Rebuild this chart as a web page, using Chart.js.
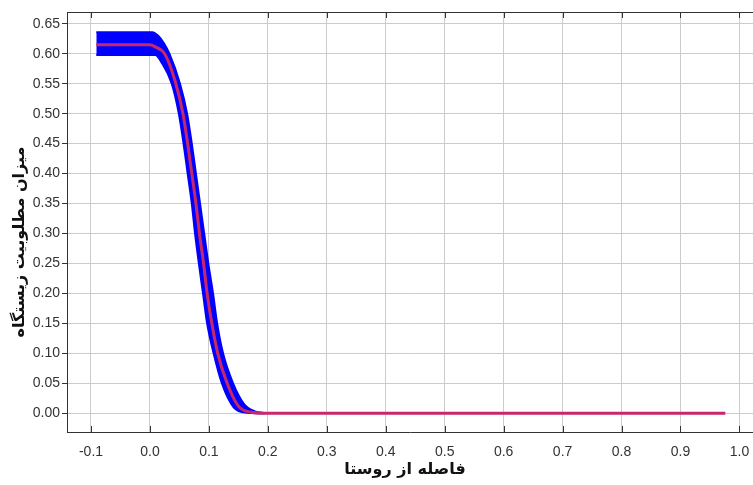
<!DOCTYPE html>
<html>
<head>
<meta charset="utf-8">
<script src="https://cdn.jsdelivr.net/npm/chart.js@4.4.1/dist/chart.umd.min.js"></script>
<style>
  body { margin: 0; background: #fff; }
  canvas { display: block; }
</style>
</head>
<body>
<canvas id="habitatChart" width="753" height="485"></canvas>
<script>
// center curve (red)
const xCenter = [-0.091, 0.0, 0.01, 0.025, 0.044, 0.056, 0.064, 0.071, 0.078, 0.084, 0.091, 0.097, 0.105, 0.115, 0.131, 0.15, 0.17, 0.195, 0.3, 0.976];
const yCenter = [0.615, 0.615, 0.611, 0.60, 0.55, 0.50, 0.45, 0.40, 0.35, 0.30, 0.25, 0.20, 0.15, 0.10, 0.05, 0.012, 0.002, 0, 0, 0];

// blue band, upper/right edge
const xUpper = [-0.091, 0.004, 0.014, 0.024, 0.033, 0.051, 0.063, 0.071, 0.078, 0.085, 0.092, 0.099, 0.107, 0.114, 0.124, 0.141, 0.16, 0.178, 0.195];
const yUpper = [0.636, 0.636, 0.630, 0.617, 0.60, 0.55, 0.50, 0.45, 0.40, 0.35, 0.30, 0.25, 0.20, 0.15, 0.10, 0.05, 0.015, 0.003, 0];

// blue band, lower/left edge
const xLower = [-0.091, 0.009, 0.02, 0.037, 0.049, 0.057, 0.064, 0.071, 0.0765, 0.083, 0.090, 0.097, 0.108, 0.122, 0.142, 0.165, 0.195];
const yLower = [0.598, 0.598, 0.585, 0.55, 0.50, 0.45, 0.40, 0.35, 0.30, 0.25, 0.20, 0.15, 0.10, 0.05, 0.01, 0.001, 0];

const xTicks = [-0.1, 0.0, 0.1, 0.2, 0.3, 0.4, 0.5, 0.6, 0.7, 0.8, 0.9, 1.0];
const yTicks = [0, 0.05, 0.10, 0.15, 0.20, 0.25, 0.30, 0.35, 0.40, 0.45, 0.50, 0.55, 0.60, 0.65];

const xTitle = 'فاصله از روستا';
const yTitle = 'میزان مطلوبیت زیستگاه';

function toPoints(xs, ys) {
    return xs.map((x, i) => ({ x: x, y: ys[i] }));
}

// titles + small inside tick marks + top frame line
const extrasPlugin = {
    id: 'extras',
    afterDraw(chart) {
        const ctx = chart.ctx;
        const area = chart.chartArea;
        const xs = chart.scales.x;
        ctx.save();
        ctx.strokeStyle = '#333';
        ctx.lineWidth = 1;
        ctx.beginPath();
        ctx.moveTo(area.left, area.top + 0.5);
        ctx.lineTo(area.right, area.top + 0.5);
        xTicks.forEach(v => {
            const px = Math.round(xs.getPixelForValue(v)) + 0.5;
            ctx.moveTo(px, area.bottom);
            ctx.lineTo(px, area.bottom - 6);
            ctx.moveTo(px, area.top);
            ctx.lineTo(px, area.top + 6);
        });
        ctx.stroke();

        ctx.fillStyle = '#111';
        ctx.font = 'bold 16px "DejaVu Sans"';
        ctx.textAlign = 'center';
        ctx.textBaseline = 'middle';
        ctx.fillText(xTitle, 405, 470);

        ctx.translate(20, 242);
        ctx.rotate(-Math.PI / 2);
        ctx.fillText(yTitle, 0, 0);
        ctx.restore();
    }
};

const ctx = document.getElementById('habitatChart').getContext('2d');
new Chart(ctx, {
    type: 'line',
    data: {
        datasets: [
            {
                label: 'lower',
                data: toPoints(xLower, yLower),
                borderColor: '#0000ff',
                borderWidth: 2,
                pointRadius: 0,
                fill: false,
                order: 2,
                cubicInterpolationMode: 'monotone'
            },
            {
                label: 'upper',
                data: toPoints(xUpper, yUpper),
                borderColor: '#0000ff',
                borderWidth: 2,
                backgroundColor: '#0000ff',
                pointRadius: 0,
                fill: '-1',
                order: 1,
                cubicInterpolationMode: 'monotone'
            },
            {
                label: 'center',
                data: toPoints(xCenter, yCenter),
                borderColor: '#c8286a',
                borderWidth: 3,
                pointRadius: 0,
                fill: false,
                order: 0,
                cubicInterpolationMode: 'monotone'
            }
        ]
    },
    options: {
        responsive: false,
        animation: false,
        layout: { padding: { top: 12, right: 0, left: 0, bottom: 0 } },
        plugins: {
            legend: { display: false },
            tooltip: { enabled: false }
        },
        scales: {
            x: {
                type: 'linear',
                min: -0.1407,
                max: 1.023,
                afterBuildTicks: scale => { scale.ticks = xTicks.map(v => ({ value: v })); },
                afterFit: scale => {
                    scale.height = 53;
                    scale.paddingLeft = 0;
                    scale.paddingRight = 0;
                },
                grid: { color: '#cccccc', drawTicks: false },
                border: { color: '#333', width: 1 },
                ticks: {
                    padding: 12,
                    color: '#333',
                    font: { family: 'Liberation Sans', size: 14 },
                    maxRotation: 0,
                    callback: v => v.toFixed(1)
                }
            },
            y: {
                type: 'linear',
                min: -0.0313,
                max: 0.6697,
                afterBuildTicks: scale => { scale.ticks = yTicks.map(v => ({ value: v })); },
                afterFit: scale => {
                    scale.width = 67;
                    scale.paddingTop = 0;
                    scale.paddingBottom = 0;
                },
                grid: { color: '#cccccc', tickLength: 5, tickColor: '#333' },
                border: { color: '#333', width: 1 },
                ticks: {
                    padding: 2,
                    color: '#333',
                    font: { family: 'Liberation Sans', size: 14 },
                    callback: v => v.toFixed(2)
                }
            }
        }
    },
    plugins: [extrasPlugin]
});
</script>
</body>
</html>
